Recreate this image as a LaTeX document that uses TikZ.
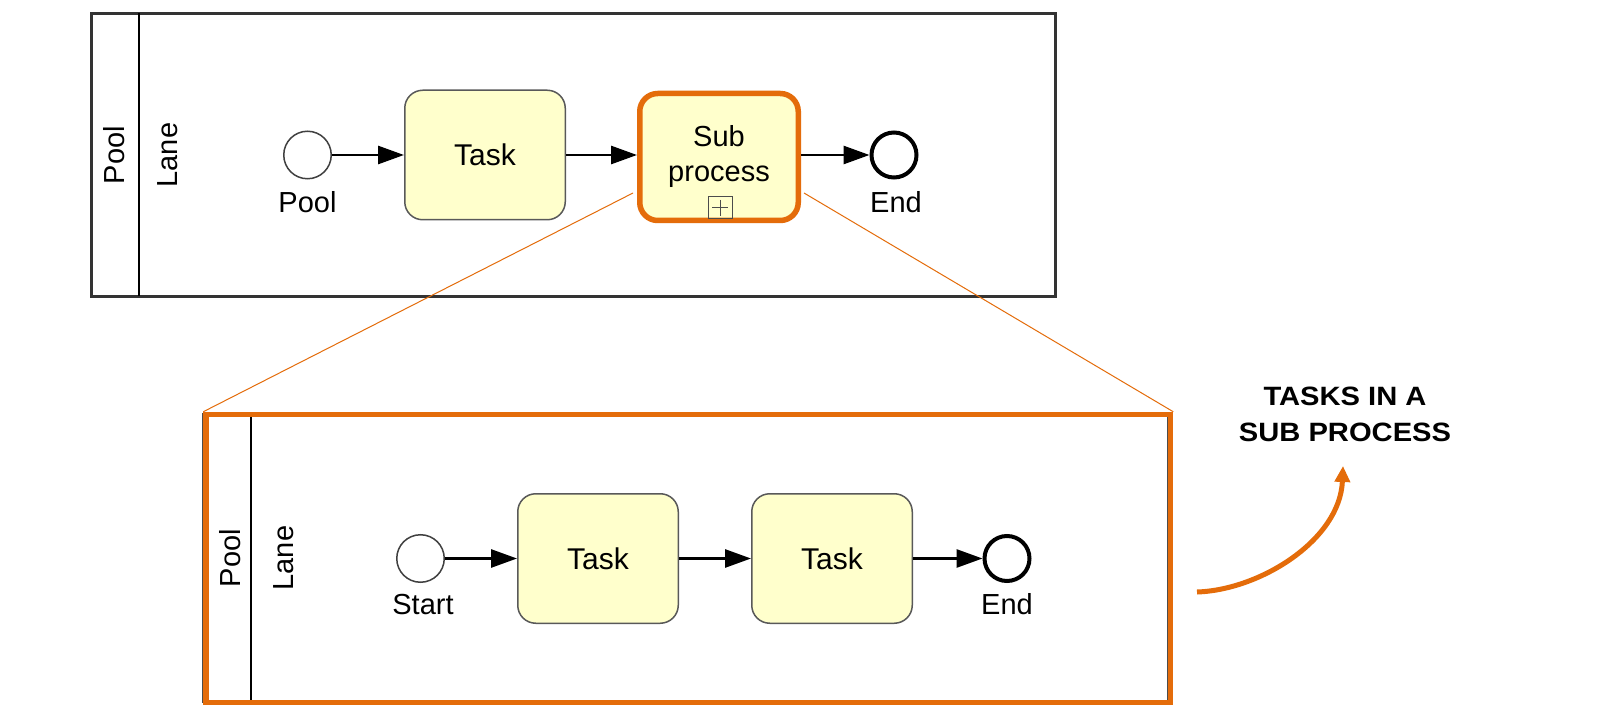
\documentclass[tikz,border=0pt]{standalone}
\usepackage{fontspec}
\setmainfont{Liberation Sans}
\newfontfamily\capfont[FakeStretch=1.1]{Liberation Sans}
\usetikzlibrary{arrows.meta,calc}
\definecolor{bpmnorange}{HTML}{E46C0A}
\definecolor{taskfill}{HTML}{FFFFCC}
\definecolor{pooldark}{HTML}{333333}
\begin{document}
\begin{tikzpicture}[x=0.5pt,y=-0.5pt,
  lbl/.style={font=\fontsize{14.5}{17.5}\selectfont, inner sep=0pt},
  taskbox/.style={draw=black!65, line width=0.75pt, fill=taskfill, rounded corners=9pt,
    minimum width=80.25pt, minimum height=64.75pt, inner sep=0pt, font=\fontsize{15}{18}\selectfont},
  startev/.style={circle, draw=black!75, line width=0.75pt, fill=white, minimum size=23.75pt, inner sep=0pt},
  endev/.style={circle, draw=black, line width=2pt, fill=white, minimum size=22.5pt, inner sep=0pt},
  flow/.style={draw=black, line width=1.4pt, -{Triangle[length=13pt,width=9pt]}},
  guide/.style={draw=bpmnorange, line width=0.5pt},
  poolbox/.style={draw=pooldark, line width=1.5pt, minimum width=482pt, minimum height=141.5pt, inner sep=0pt},
  divider/.style={draw=black, line width=1pt},
]
\useasboundingbox (0,0) rectangle (1600,716);
\fill[white] (0,0) rectangle (1600,716);

% ---------- top pool ----------
\node[poolbox] (pool1) at (573.5,155) {};
\draw[divider] (139,13.5) -- (139,296.5);
\node[lbl, rotate=90] (pool1lbl) at (114,155) {Pool};
\node[lbl, rotate=90] (lane1lbl) at (168,155) {Lane};

\node[startev] (s1) at (307.5,155) {};
\node[lbl, anchor=base] (s1l) at (307.5,213) {Pool};
\node[taskbox] (t1) at (485,155) {Task};
\node[draw=bpmnorange, line width=2.75pt, fill=taskfill, rounded corners=9pt,
  minimum width=79.25pt, minimum height=63.5pt, inner sep=0pt, align=center,
  font=\fontsize{14.5}{17.5}\selectfont] (sp) at (719,157) {Sub\\process};
\node[draw=black!70, line width=0.5pt, minimum width=12pt, minimum height=11pt, inner sep=0pt] (mk) at (720,208) {};
\draw[black!70, line width=0.5pt] ($(mk.center)+(-8,0)$) -- ($(mk.center)+(8,0)$);
\draw[black!70, line width=0.5pt] ($(mk.center)+(0,-8)$) -- ($(mk.center)+(0,8)$);
\node[endev] (e1) at (894,155) {};
\node[lbl, anchor=base] (e1l) at (896,213) {End};

\draw[flow] (s1) -- (t1);
\draw[flow] (t1.east) -- (t1.east -| sp.west);
\draw[flow] (sp.east |- e1.west) -- (e1.west);

% ---------- bottom (expanded) pool ----------
\draw[draw=black!70, line width=0.75pt] (203,414) rectangle (1168,702);
\node[draw=bpmnorange, line width=2.75pt, minimum width=482.25pt, minimum height=144pt, inner sep=0pt] (zoombox) at (688.25,558.5) {};
\draw[divider] (251,417) -- (251,700);
\node[lbl, rotate=90] (pool2lbl) at (230,558) {Pool};
\node[lbl, rotate=90] (lane2lbl) at (284,558) {Lane};

\node[startev] (s2) at (420.5,558.5) {};
\node[lbl, anchor=base] (s2l) at (423,614) {Start};
\node[taskbox] (ta) at (598,558.5) {Task};
\node[taskbox] (tb) at (832,558.5) {Task};
\node[endev] (e2) at (1007,558.5) {};
\node[lbl, anchor=base] (e2l) at (1007,614) {End};

\draw[flow] (s2) -- (ta);
\draw[flow] (ta) -- (tb);
\draw[flow] (tb) -- (e2);

% ---------- zoom guide lines ----------
\coordinate (gl) at (633,193);
\coordinate (gr) at (804,193);
\draw[guide] (gl) -- (zoombox.north west);
\draw[guide] (gr) -- (zoombox.north east);

% ---------- caption ----------
\node[font=\capfont\bfseries\fontsize{13.25}{18}\selectfont, align=center, inner sep=0pt] (cap) at (1345,414.5) {TASKS IN A\\SUB PROCESS};
\coordinate (ca0) at (1197,592);
\coordinate (ca1) at (1343,466);
\draw[bpmnorange, line width=2.5pt, -{Triangle[length=8pt,width=7.5pt]}] (ca0) .. controls (1260,590) and (1340,540) .. (ca1);
\end{tikzpicture}
\end{document}
